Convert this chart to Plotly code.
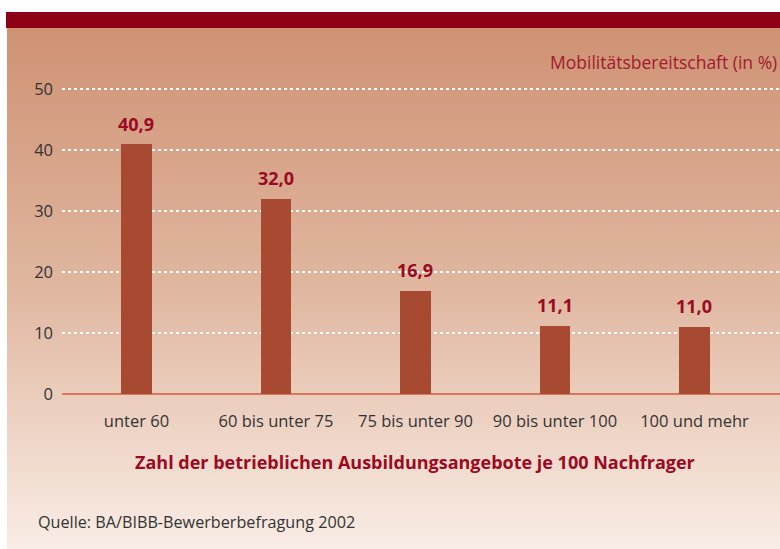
import plotly.graph_objects as go

categories = ["unter 60", "60 bis unter 75", "75 bis unter 90", "90 bis unter 100", "100 und mehr"]
values = [40.9, 32.0, 16.9, 11.1, 11.0]
y_ticks = [0, 10, 20, 30, 40, 50]

W, H = 780, 549
FONT = "Open Sans"
DARK_RED = "#9B0A22"
Y_TOP = 50.3
PX_PER_UNIT = 6.1


def px(x):
    return x / W


def py(y):
    return (H - y) / H


def lerp(c1, c2, t):
    return tuple(round(a + (b - a) * t) for a, b in zip(c1, c2))


fig = go.Figure()
fig.add_trace(go.Bar(
    x=list(range(len(categories))),
    y=values,
    width=0.222,
    marker=dict(color="#A84A32", line=dict(width=0)),
    hoverinfo="skip",
))

shapes = []
# gradient background
top_c = (207, 146, 116)
mid_c = (224, 183, 160)
bot_c = (249, 237, 230)
y0, y1 = 28, 549
step = 4
y = y0
while y < y1:
    t = (y - y0) / (y1 - y0)
    if t < 0.5:
        c = lerp(top_c, mid_c, t / 0.5)
    else:
        c = lerp(mid_c, bot_c, (t - 0.5) / 0.5)
    shapes.append(dict(type="rect", xref="paper", yref="paper", layer="below",
                       x0=px(7), x1=1, y0=py(min(y + step, y1)), y1=py(y),
                       fillcolor="rgb(%d,%d,%d)" % c, line=dict(width=0)))
    y += step
# top band
shapes.append(dict(type="rect", xref="paper", yref="paper", layer="below",
                   x0=px(6), x1=1, y0=py(28), y1=py(12),
                   fillcolor="#8E0016", line=dict(width=0)))

annotations = []
for i, v in enumerate(values):
    annotations.append(dict(x=i, y=v, xref="x", yref="y", text="<b>%s</b>" % f"{v:.1f}".replace(".", ","),
                            showarrow=False, yshift=21, font=dict(family=FONT, size=18, color=DARK_RED)))
annotations.append(dict(x=px(779), y=py(62), xref="paper", yref="paper", xanchor="right", yanchor="middle",
                        text="Mobilitätsbereitschaft (in %)", showarrow=False,
                        font=dict(family=FONT, size=17.5, color="#A31A2C")))
annotations.append(dict(x=px(415), y=py(462), xref="paper", yref="paper", xanchor="center", yanchor="middle",
                        text="<b>Zahl der betrieblichen Ausbildungsangebote je 100 Nachfrager</b>", showarrow=False,
                        font=dict(family=FONT, size=18, color=DARK_RED)))
annotations.append(dict(x=px(36), y=py(522), xref="paper", yref="paper", xanchor="left", yanchor="middle",
                        text="Quelle: BA/BIBB-Bewerberbefragung 2002", showarrow=False,
                        font=dict(family=FONT, size=16.2, color="#333333")))

fig.update_layout(
    width=W, height=H,
    margin=dict(l=0, r=0, t=0, b=0),
    paper_bgcolor="white",
    plot_bgcolor="rgba(0,0,0,0)",
    showlegend=False,
    shapes=shapes,
    annotations=annotations,
    font=dict(family=FONT, color="#333333"),
    xaxis=dict(domain=[px(62), 1], range=[-0.534, 4.613], tickmode="array",
               tickvals=list(range(len(categories))), ticktext=categories,
               showgrid=False, zeroline=False, showline=False, ticks="",
               ticklabelstandoff=15, tickfont=dict(size=16.5, color="#333333"), automargin=False),
    yaxis=dict(domain=[py(394), py(394 - Y_TOP * PX_PER_UNIT)], range=[0, Y_TOP], tickmode="array", tickvals=y_ticks,
               showgrid=True, gridcolor="white", griddash="dot", gridwidth=2,
               zeroline=True, zerolinecolor="#D9785A", zerolinewidth=1.5,
               showline=False, ticks="", ticklabelstandoff=8,
               tickfont=dict(size=16.5, color="#333333"), automargin=False),
    bargap=0,
)

fig.write_html("out.html")
